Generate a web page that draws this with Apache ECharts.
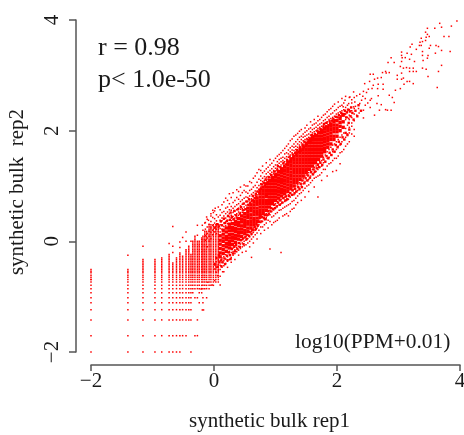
<!DOCTYPE html>
<html>
<head>
<meta charset="utf-8">
<script src="https://cdn.jsdelivr.net/npm/echarts@6/dist/echarts.min.js"></script>
<style>
html,body{margin:0;padding:0;background:#fff}
#main{width:464px;height:435px}
</style>
</head>
<body>
<div id="main"></div>
<script>
// log10(PPM+0.01) values
const statLines = ['r = 0.98', 'p< 1.0e-50']
const unitNote = 'log10(PPM+0.01)'

// low count lattice: the y levels and which columns reach them
const latticeRows = [-2,-1.705,-1.42,-1.235,-1.11,-1.02,-.93,-.855,-.795,-.735,-.69,-.65,-.615,-.57,-.54,-.51,-.48,-.45,-.42,-.39,-.36,-.33,-.30,-.27,-.24,-.21,-.18,-.15,-.12,-.09,-.06,-.03,0,.03,.06,.09,.12,.15,.18,.21,.24,.27,.30]
const latticeX = [-2,-1.4,-1.155,-.96,-.85,-.73,-.67,-.61,-.555,-.51,-.455,-.41,-.375,-.345,-.31,-.27,-.24,-.2,-.18,-.15,-.12,-.08,-.05,-.01,.03,.07]
const latticeLow = ['111111111','111111111','111111111','111111111','111111111','111111111','111111111','111111111','111111111','011111111','011111111','001111111','101111111','000000111','010001011','011001011','000010111','000000111','000011011','000000011','000000011','000000011','000000001','000000001','000000000','000000000']
const latticeTop = [15,15,21,21,22,24,19,22,25,23,27,29,24,32,35,32,32,34,35,38,38,42,42,42,42,42]
const latticeExtra = [[-2,-.69],[-1.4,-.25],[-1.155,-.09],[-.73,-.04],[-.67,-.2],[-.67,-.09],[-.67,.27],[-.555,-.11],[-.555,-.01],[-.51,.07],[-.455,0],[-.455,.17],[-.375,.0],[-.27,.11],[-.27,.29],[-.18,.2],[-.19,.29],[-.09,.38],[-.15,.33],[-.12,.44],[-.05,.46],[-.01,.52],[.02,.6],[-.21,-.86],[-.1,-.74],[-.03,-.79],[.01,-.71],[.06,-.62],[.1,-.79],[.14,-.55],[-.12,-1.02],[-.17,-1.24],[-.19,-1.24]]

// solid middle of the cloud, one row per x slice
const bandCore = [
[.1,-.28,-.21,-.13,-.05,.02,.1],
[.15,-.22,-.15,-.08,0,.06,.13,.2],
[.2,-.18,-.1,-.04,.03,.09,.17,.24],
[.25,-.12,-.06,0,.06,.12,.19,.25,.31],
[.3,-.06,.01,.07,.13,.2,.25,.32],
[.35,-.02,.05,.11,.18,.23,.3,.36],
[.4,.04,.1,.16,.22,.29,.34,.41],
[.45,.09,.16,.22,.28,.35,.4,.46],
[.5,.14,.2,.27,.32,.38,.44,.5],
[.55,.18,.24,.31,.36,.43,.48,.54,.6],
[.6,.24,.3,.36,.42,.48,.55,.6,.66],
[.65,.3,.36,.41,.48,.54,.6,.66,.72],
[.7,.36,.42,.49,.54,.6,.67,.72,.78],
[.75,.46,.5,.56,.62,.68,.74,.8,.86,.92],
[.8,.5,.56,.62,.68,.74,.8,.86,.92,.98],
[.85,.56,.62,.68,.74,.81,.86,.92,.98,1.04],
[.9,.62,.68,.74,.8,.86,.92,.98,1.04,1.1],
[.95,.68,.74,.8,.86,.92,.98,1.04,1.1,1.15],
[1,.74,.8,.86,.92,.98,1.04,1.1,1.16,1.2],
[1.05,.78,.84,.9,.96,1.02,1.08,1.14,1.2,1.26],
[1.1,.82,.88,.94,1,1.06,1.12,1.18,1.24,1.3],
[1.15,.86,.92,.98,1.04,1.1,1.16,1.22,1.28,1.34],
[1.2,.9,.96,1.02,1.08,1.14,1.2,1.26,1.32,1.38,1.43],
[1.25,.95,1.01,1.07,1.13,1.19,1.25,1.31,1.37,1.43,1.48],
[1.3,1.0,1.06,1.12,1.18,1.24,1.3,1.36,1.42,1.48,1.54],
[1.35,1.06,1.12,1.18,1.24,1.3,1.36,1.42,1.48,1.54,1.6],
[1.4,1.12,1.18,1.24,1.3,1.36,1.42,1.48,1.54,1.6,1.66],
[1.45,1.18,1.24,1.3,1.36,1.42,1.48,1.54,1.6,1.66,1.72],
[1.5,1.24,1.3,1.36,1.42,1.48,1.54,1.6,1.66,1.72,1.77],
[1.55,1.3,1.36,1.42,1.48,1.54,1.6,1.66,1.72,1.78,1.82],
[1.6,1.36,1.42,1.48,1.54,1.6,1.66,1.72,1.78,1.84,1.88],
[1.65,1.42,1.48,1.54,1.6,1.66,1.72,1.78,1.84,1.9],
[1.7,1.48,1.54,1.6,1.66,1.72,1.78,1.84,1.9,1.96],
[1.75,1.54,1.6,1.66,1.72,1.78,1.84,1.9,1.96,2],
[1.8,1.62,1.68,1.74,1.8,1.86,1.92,1.98,2.04],
[1.85,1.7,1.76,1.82,1.88,1.94,2,2.06],
[1.9,1.76,1.84,1.9,1.96,2.02,2.08,2.12],
[1.95,1.84,1.9,1.98,2.04,2.1,2.16],
[2,1.9,1.98,2.04,2.1,2.18],
[2.05,2.0,2.08,2.15,2.22],
[2.1,2.06,2.16,2.28]
]

// just outside the core, still fairly thick, [x, y]
const bandShoulder = [
[.02,.25],[.05,.31],[.08,.27],[.11,.36],[.13,.29],[.16,.41],[.18,.33],[.21,.37],[.23,.46],[.26,.39],[.27,.52],[.29,.44],[.32,.4],[.33,.55],[.36,.47],[.38,.42],[.39,.58],[.42,.5],[.44,.62],[.47,.56],[.48,.68],[.51,.58],[.53,.72],[.56,.66],[.57,.76],[.59,.7],[.62,.74],[.63,.82],[.66,.78],[.68,.86],[.69,.81],[.71,.9],[.74,.86],[.76,.95],[.77,1.03],[.79,.98],[.81,1.06],[.83,1.01],[.84,1.12],[.87,1.07],[.89,1.16],[.91,1.11],[.93,1.2],[.96,1.16],[.98,1.26],[1.01,1.22],[1.03,1.29],[1.04,1.36],[1.07,1.27],[1.08,1.34],[1.11,1.32],[1.13,1.42],[1.14,1.37],[1.17,1.39],[1.19,1.47],[1.22,1.44],[1.23,1.53],[1.26,1.5],[1.28,1.57],[1.29,1.52],[1.32,1.6],[1.34,1.56],[1.35,1.65],[1.38,1.62],[1.4,1.7],[1.41,1.64],[1.44,1.75],[1.46,1.7],[1.47,1.8],[1.5,1.78],[1.52,1.84],[1.53,1.79],[1.56,1.86],[1.58,1.82],[1.59,1.92],[1.62,1.9],[1.64,1.94],[1.67,1.92],[1.68,2.0],[1.71,1.98],[1.73,2.03],[1.76,2.02],[1.78,2.07],[1.79,2.12],[1.82,2.08],[1.83,2.14],[1.86,2.1],[1.88,2.17],[1.89,2.13],[1.92,2.18],[1.94,2.21],[1.97,2.19],[1.98,2.25],[2.01,2.24],[2.03,2.28],[2.06,2.26],[2.07,2.32],[2.09,2.3],[2.12,2.3],[2.13,2.36],[2.16,2.33],[2.18,2.38],[2.21,2.35],[2.23,2.42],
[.02,-.42],[.04,-.3],[.06,-.46],[.08,-.25],[.09,-.38],[.12,-.45],[.12,-.34],[.14,-.38],[.17,-.31],[.18,-.41],[.21,-.26],[.22,-.34],[.24,-.2],[.26,-.25],[.27,-.32],[.29,-.14],[.31,-.22],[.33,-.1],[.34,-.18],[.36,-.07],[.38,-.14],[.41,-.03],[.42,-.1],[.44,.02],[.47,.05],[.48,-.05],[.51,.08],[.53,.04],[.54,.12],[.57,.1],[.58,.17],[.61,.14],[.62,.21],[.64,.2],[.66,.26],[.68,.22],[.69,.31],[.71,.28],[.73,.35],[.74,.42],[.77,.36],[.78,.44],[.81,.42],[.83,.48],[.84,.4],[.86,.47],[.88,.55],[.89,.5],[.92,.54],[.93,.6],[.96,.58],[.98,.66],[.99,.6],[1.02,.63],[1.04,.7],[1.07,.66],[1.08,.74],[1.11,.7],[1.13,.78],[1.16,.74],[1.17,.81],[1.19,.76],[1.22,.82],[1.24,.87],[1.27,.84],[1.28,.92],[1.31,.87],[1.32,.95],[1.34,.9],[1.37,.98],[1.39,.94],[1.41,1.04],[1.43,.98],[1.44,1.1],[1.47,1.05],[1.49,1.14],[1.52,1.1],[1.53,1.19],[1.56,1.15],[1.58,1.25],[1.61,1.21],[1.62,1.3],[1.64,1.26],[1.67,1.32],[1.69,1.38],[1.71,1.34],[1.73,1.42],[1.76,1.38],[1.78,1.48],[1.81,1.44],[1.83,1.54],[1.86,1.5],[1.88,1.6],[1.91,1.56],[1.93,1.66],[1.96,1.62],[1.98,1.74],[2.01,1.7],[2.03,1.8],[2.06,1.76],[2.09,1.88],[2.12,1.84],[2.14,1.96],[2.17,1.92],[2.2,2.02],
[2.15,2.24],[2.19,2.14],[2.22,2.26],[2.25,2.32],[2.27,2.2],[2.3,2.36],[2.33,2.26],[2.35,2.46],[2.39,2.36]
]

// thin edge of the cloud, single pixels around the core
const bandFringe = [
[-.14,.02,.1,.22,.34],
[-.11,-.1,.06,.14,.26,.4],
[-.08,.0,.09,.18,.31],
[-.05,.05,.16,.24,.36,.5],
[-.02,.12,.2,.29,.43,.56],
[.01,.17,.24,.33,.41,.55,-.4,-.5],
[.04,.14,.22,.28,.37,.48,-.37,-.47,-.56],
[.07,.18,.25,.31,.44,.62,-.34,-.42,-.52],
[.1,.17,.23,.3,.38,.47,.57,-.35,-.43,-.51,-.63],
[.13,.22,.29,.37,.42,.52,.66,-.3,-.38,-.47],
[.16,.27,.33,.4,.46,.54,.71,-.28,-.35,-.44,-.55],
[.19,.28,.35,.42,.5,.6,.78,-.24,-.32,-.4],
[.22,.32,.38,.45,.53,.62,.74,-.2,-.28,-.36,-.47],
[.25,.38,.44,.5,.57,.68,.86,-.18,-.24,-.33],
[.28,.37,.42,.47,.56,.63,.79,-.12,-.2,-.29,-.38],
[.31,.39,.45,.52,.6,.7,.88,-.12,-.19,-.25],
[.34,.42,.48,.55,.63,.74,-.08,-.15,-.22,-.33],
[.37,.44,.5,.57,.66,.79,.93,-.03,-.11,-.19],
[.4,.47,.53,.6,.68,.76,.9,-.03,-.09,-.16,-.25],
[.43,.52,.58,.64,.72,.83,.98,.02,-.05,-.13],
[.46,.52,.59,.67,.75,.88,.03,-.03,-.1,-.2],
[.49,.56,.62,.69,.78,.92,1.02,.06,0,-.08],
[.52,.58,.65,.72,.8,.89,1.0,.09,.02,-.06,-.18],
[.55,.66,.72,.79,.87,1,.12,.05,-.03],
[.58,.69,.75,.82,.92,1.08,.16,.08,0,-.1],
[.61,.72,.77,.85,.94,1.06,.18,.12,.04,-.29],
[.64,.75,.81,.88,.98,1.14,.24,.16,.08,-.03],
[.67,.77,.83,.91,1.01,1.18,.26,.2,.12],
[.7,.84,.9,.97,1.07,1.24,.3,.24,.15,.04],
[.73,.88,.94,1.01,1.12,1.3,.38,.3,.2],
[.76,.98,1.04,1.1,1.18,1.28,.42,.34,.26,.14],
[.79,1.03,1.08,1.14,1.24,1.36,.44,.36,.26],
[.82,1.04,1.1,1.17,1.27,.46,.39,.3,.2],
[.85,1.1,1.16,1.22,1.31,1.42,.5,.43,.33],
[.88,1.12,1.17,1.25,1.34,.54,.47,.38,.24],
[.91,1.16,1.22,1.28,1.38,1.48,.56,.48,.36,-.14],
[.94,1.2,1.25,1.31,1.41,.6,.54,.44,.3],
[.97,1.22,1.28,1.35,1.46,.66,.57,.46,.34],
[1,1.27,1.32,1.38,1.5,.68,.6,.5,.36],
[1.03,1.32,1.38,1.44,1.54,.72,.64,.52,.38],
[1.06,1.35,1.41,1.48,1.57,.74,.66,.56,.42],
[1.09,1.38,1.44,1.5,1.6,.76,.68,.57,-.2],
[1.12,1.4,1.46,1.52,1.64,.78,.7,.6,.46],
[1.15,1.44,1.5,1.58,1.68,.8,.72,.62,.48],
[1.18,1.48,1.53,1.6,1.72,.82,.74,.64,.5],
[1.21,1.52,1.58,1.65,1.76,.84,.76,.66,.46],
[1.24,1.56,1.62,1.69,1.82,.88,.8,.68,.54],
[1.27,1.6,1.65,1.72,1.85,.92,.84,.72,.58],
[1.3,1.64,1.7,1.76,1.9,.94,.84,.74,.6],
[1.33,1.66,1.72,1.8,1.92,1,.9,.78,.66],
[1.36,1.7,1.76,1.84,1.95,1.02,.92,.82,.7],
[1.39,1.74,1.8,1.88,1.99,1.06,.96,.86],
[1.42,1.78,1.84,1.9,2.02,1.1,1,.88,.74],
[1.45,1.82,1.88,1.94,1.14,1.04,.92],
[1.48,1.84,1.9,1.97,2.05,1.18,1.08,.96,.8],
[1.51,1.86,1.92,2,2.1,1.2,1.1,1],
[1.54,1.88,1.94,2.03,1.24,1.12,1.02,.9],
[1.57,1.92,1.98,2.05,2.16,1.28,1.18,1.06],
[1.6,1.96,2.02,2.1,1.3,1.22,1.1],
[1.63,1.98,2.04,2.12,2.2,1.34,1.24,1.14,.98],
[1.66,2.0,2.06,2.14,1.36,1.26,1.16],
[1.69,2.04,2.1,2.18,2.26,1.4,1.3,1.18,.8],
[1.72,2.06,2.12,2.2,1.44,1.34,1.2],
[1.75,2.08,2.14,2.24,1.46,1.36,1.24,1.1],
[1.78,2.1,2.18,2.28,1.52,1.42,1.3],
[1.81,2.14,2.2,2.3,1.56,1.44,1.3],
[1.84,2.16,2.24,2.34,1.62,1.5,1.36,1.18],
[1.87,2.2,2.26,2.38,1.66,1.52,1.4],
[1.9,2.22,2.3,2.4,1.7,1.56,1.42],
[1.93,2.24,2.32,2.44,1.74,1.62,1.46,1.26],
[1.96,2.26,2.36,2.48,1.76,1.62,1.5],
[1.99,2.3,2.38,1.8,1.66,1.5,1.28],
[2.02,2.32,2.42,2.52,1.84,1.72,1.54],
[2.05,2.34,2.44,1.88,1.74,1.6,1.4],
[2.08,2.36,2.46,2.58,1.92,1.8,1.62],
[2.11,2.38,2.5,1.96,1.84,1.66],
[2.14,2.2,2.3,2.42,2.62,2.04,1.88,1.72],
[2.17,2.24,2.34,2.46,2.1,1.94,1.76],
[2.2,2.2,2.28,2.38,2.6,2.06,1.96,1.8],
[2.24,2.14,2.24,2.36,2.5,2.08,1.94],
[2.28,2.18,2.3,2.4,2.6,2.02,1.9]
]

// the sparse top right of the cloud, [x, y]
const sparseTail = [[3.95,3.98],[3.67,3.94],[3.86,3.89],[3.7,3.87],[3.59,3.85],[3.47,3.85],[3.44,3.78],[3.47,3.74],[3.5,3.7],[3.45,3.69],[3.37,3.67],[3.74,3.7],[3.82,3.7],[3.35,3.6],[3.39,3.61],[3.34,3.54],[3.37,3.54],[3.44,3.63],[3.22,3.56],[3.19,3.51],[3.29,3.47],[3.5,3.49],[3.52,3.54],[3.61,3.54],[3.65,3.52],[3.7,3.45],[3.84,3.43],[3.6,3.4],[3.39,3.43],[3.39,3.36],[3.48,3.36],[3.47,3.31],[3.4,3.27],[3.26,3.25],[3.05,3.42],[3.05,3.36],[3.14,3.4],[3.21,3.38],[3.06,3.32],[3.11,3.32],[3.18,3.29],[2.88,3.32],[2.83,3.23],[2.93,3.23],[3.05,3.25],[3.03,3.16],[3.08,3.13],[3.13,3.14],[3.18,3.13],[3.24,3.13],[3.29,3.07],[3.24,3.07],[3.18,3.07],[3.39,3.13],[3.45,3.11],[3.7,3.18],[3.65,3.07],[3.48,2.98],[3.63,2.78],[3.24,2.85],[3.18,2.89],[3.14,2.89],[3.08,2.95],[3.05,2.93],[2.98,2.93],[2.98,3],[3.05,3.04],[3.09,2.84],[3.03,2.76],[2.95,2.73],[2.93,2.51],[2.9,2.6],[2.85,2.64],[2.82,2.37],[2.88,2.37],[2.79,2.38],[2.72,2.47],[2.69,2.37],[2.61,2.28],[2.85,3.05],[2.8,3.04],[2.74,3.05],[2.79,3.07],[2.72,2.96],[2.66,2.95],[2.59,3.02],[2.54,3.02],[2.61,2.93],[2.53,2.89],[2.45,2.85],[2.59,2.82],[2.67,2.84],[2.75,2.84],[2.66,2.76],[2.75,2.75],[2.57,2.76],[2.51,2.75],[2.43,2.71],[2.48,2.69],[2.37,2.66],[2.27,2.7],[2.32,2.63],[2.21,2.61],[2.56,2.58],[2.67,2.63],[2.65,2.49],[2.54,2.55],[2.46,2.58],[2.4,2.55],[2.29,2.52],[2.37,2.49],[2.46,2.46],[2.54,2.42],[2.43,2.37],[2.35,2.4],[2.27,2.43],[2.19,2.49],[2.13,2.55],[2.1,2.43],[2.21,2.34],[2.32,2.28],[2.43,2.23],[2.19,2.22],[2.3,2.44],[2.36,2.32],[2.24,2.56],[2.5,2.5],[2.42,2.62]]

// build the point lists
let finePoints = sparseTail.slice()
latticeX.forEach(function(x, i){
    latticeRows.forEach(function(y, r){
        if(r < 9){
            if(latticeLow[i][r] === '1') finePoints.push([x, y])
        }else if(r <= latticeTop[i]){
            finePoints.push([x, y])
        }
    })
})
finePoints = finePoints.concat(latticeExtra)
bandFringe.forEach(function(row){
    row.slice(1).forEach(function(y){ finePoints.push([row[0], y]) })
})
let corePoints = []
bandCore.forEach(function(row){
    row.slice(1).forEach(function(y){ corePoints.push([row[0], y]) })
})

const serif = '"Liberation Serif", "Times New Roman", serif'
const axisColor = '#555'

function tickText(v){
    return v < 0 ? '\u2212' + Math.abs(v) : '' + v
}

const myChart = echarts.init(document.getElementById('main'))
myChart.setOption({
    animation: false,
    backgroundColor: '#fff',
    grid: { left: 91, right: 4, top: 20, bottom: 83, outerBoundsMode: 'none' },
    xAxis: {
        type: 'value',
        min: -2, max: 4, interval: 2,
        offset: 13,
        name: 'synthetic bulk rep1',
        nameLocation: 'middle',
        nameGap: 46,
        nameMoveOverlap: false,
        nameTextStyle: { fontFamily: serif, fontSize: 21, color: '#1a1a1a', padding: [0, 12, 0, 0] },
        axisLine: { onZero: false, lineStyle: { color: axisColor, width: 1.5 } },
        axisTick: { length: 6, lineStyle: { color: axisColor, width: 1.5 } },
        axisLabel: { fontFamily: serif, fontSize: 21, color: '#1a1a1a', margin: 6, hideOverlap: false,
            showMinLabel: true, showMaxLabel: true, formatter: tickText },
        splitLine: { show: false }
    },
    yAxis: {
        type: 'value',
        min: -2, max: 4, interval: 2,
        offset: 15,
        name: 'synthetic bulk  rep2',
        nameLocation: 'middle',
        nameGap: 48,
        nameRotate: 90,
        nameMoveOverlap: false,
        nameTextStyle: { fontFamily: serif, fontSize: 21, color: '#1a1a1a', padding: [0, 12, 0, 0] },
        axisLine: { onZero: false, lineStyle: { color: axisColor, width: 1.5 } },
        axisTick: { length: 7, lineStyle: { color: axisColor, width: 1.5 } },
        axisLabel: { fontFamily: serif, fontSize: 21, color: '#1a1a1a', rotate: 90, margin: 13, hideOverlap: false,
            showMinLabel: true, showMaxLabel: true, formatter: tickText },
        splitLine: { show: false }
    },
    series: [
        { type: 'scatter', symbol: 'rect', symbolSize: 3.4, data: corePoints,
          itemStyle: { color: '#ff0000', opacity: 1 }, silent: true, clip: false },
        { type: 'scatter', symbol: 'rect', symbolSize: 2.4, data: bandShoulder,
          itemStyle: { color: '#ff0000', opacity: 1 }, silent: true, clip: false },
        { type: 'scatter', symbol: 'rect', symbolSize: 1.5, data: finePoints,
          itemStyle: { color: '#ff0000', opacity: 1 }, silent: true, clip: false }
    ],
    graphic: [
        { type: 'text', left: 98, top: 35, style: { text: statLines[0], font: '26px ' + serif, fill: '#1a1a1a' } },
        { type: 'text', left: 98, top: 67, style: { text: statLines[1], font: '26px ' + serif, fill: '#1a1a1a' } },
        { type: 'text', left: 295, top: 332, style: { text: unitNote, font: '21.4px ' + serif, fill: '#1a1a1a' } },
        { type: 'text', left: 246, top: -21, style: { text: 'g', font: '21px ' + serif, fill: '#1a1a1a' } },
        { type: 'text', left: 303, top: -21, style: { text: 'y', font: '21px ' + serif, fill: '#1a1a1a' } }
    ]
})
window.addEventListener('resize', function(){ myChart.resize() })
</script>
</body>
</html>
